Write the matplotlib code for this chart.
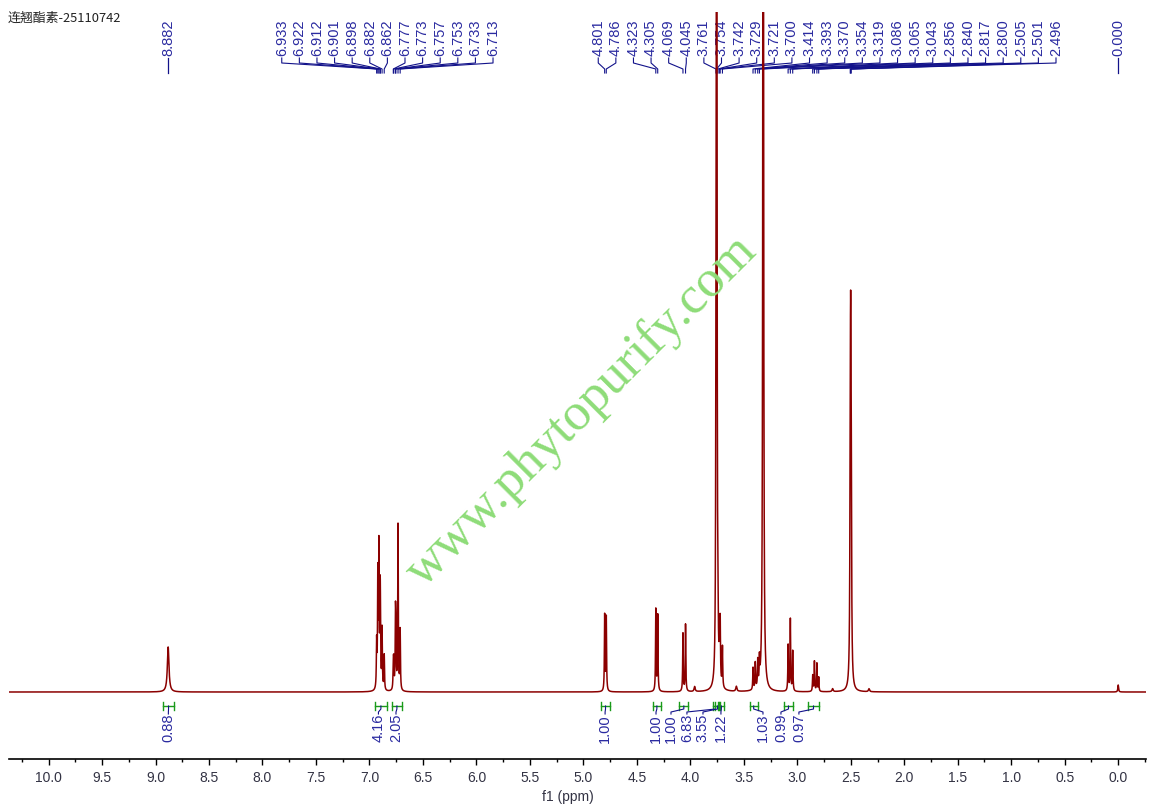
import numpy as np
import matplotlib.pyplot as plt
from matplotlib.ticker import MultipleLocator

plt.rcParams['font.family'] = ['Liberation Sans', 'DejaVu Sans']

sample_name = "连翘酯素-25110742"
watermark = "www.phytopurify.com"

# resonance lines: shift (ppm), height above baseline, half width (ppm)
line_ppm = [8.882,
            6.933, 6.922, 6.912, 6.901, 6.898, 6.882, 6.862,
            6.777, 6.773, 6.757, 6.753, 6.733, 6.713,
            4.801, 4.786, 4.323, 4.305, 4.069, 4.045, 3.960,
            3.761, 3.754, 3.742, 3.729, 3.721, 3.700, 3.570,
            3.414, 3.393, 3.370, 3.354, 3.319,
            3.086, 3.065, 3.043,
            2.856, 2.840, 2.817, 2.800, 2.670,
            2.505, 2.501, 2.496, 2.330, 0.000]
line_height = [45,
               45, 112, 138, 70, 60, 60, 35,
               24, 24, 65, 55, 165, 60,
               76, 74, 82, 76, 58, 67, 5,
               150, 1500, 40, 30, 60, 40, 5,
               22, 26, 26, 24, 1500,
               46, 72, 40,
               16, 30, 28, 14, 3,
               170, 250, 170, 3, 7]
line_hwhm = [0.009,
             0.003, 0.003, 0.003, 0.003, 0.003, 0.003, 0.003,
             0.003, 0.003, 0.003, 0.003, 0.003, 0.003,
             0.003, 0.003, 0.003, 0.003, 0.003, 0.003, 0.006,
             0.003, 0.003, 0.003, 0.003, 0.003, 0.003, 0.006,
             0.003, 0.003, 0.003, 0.003, 0.0035,
             0.003, 0.003, 0.003,
             0.003, 0.003, 0.003, 0.003, 0.006,
             0.004, 0.004, 0.004, 0.006, 0.004]

# peak picking labels (top)
peaks_left = [6.933, 6.922, 6.912, 6.901, 6.898, 6.882, 6.862,
              6.777, 6.773, 6.757, 6.753, 6.733, 6.713]
peaks_right = [4.801, 4.786, 4.323, 4.305, 4.069, 4.045,
               3.761, 3.754, 3.742, 3.729, 3.721, 3.700,
               3.414, 3.393, 3.370, 3.354, 3.319,
               3.086, 3.065, 3.043,
               2.856, 2.840, 2.817, 2.800,
               2.505, 2.501, 2.496]
peaks_single = [8.882, 0.000]

# integrals (bottom)
int_from = [8.93, 6.95, 6.79, 4.835, 4.352, 4.103, 3.79, 3.77, 3.73, 3.446, 3.125, 2.90]
int_to = [8.827, 6.836, 6.697, 4.751, 4.274, 4.019, 3.74, 3.72, 3.69, 3.370, 3.040, 2.797]
int_value = ["0.88", "4.16", "2.05", "1.00", "1.00", "1.00", "6.83", "3.55", "1.22", "1.03", "0.99", "0.97"]
int_label_at = [8.88, 6.916, 6.752, 4.797, 4.321, 4.181, 4.032, 3.882, 3.714, 3.321, 3.153, 2.985]

ppm = np.linspace(10.37, -0.26, 50000)
spec = np.zeros_like(ppm)
for p, h, w in zip(line_ppm, line_height, line_hwhm):
    spec += h / (1 + ((ppm - p) / w) ** 2)

fig = plt.figure(figsize=(11.53, 8.09), dpi=100)
ax = fig.add_axes([9 / 1153, 50 / 809, 1137 / 1153, 747 / 809])
ax.set_xlim(10.37, -0.26)
ax.set_ylim(-67, 680)

lab_col = '#2a2aa0'
con_col = '#12128a'

# peak labels with connectors
step = 0.1646
def draw_group(peaks, start):
    for i, p in enumerate(peaks):
        lx = start - i * step
        ax.text(lx, 636, f"{p:.3f}", rotation=90, ha='center', va='bottom',
                fontsize=10.5, color=lab_col)
        ax.plot([lx, lx, p, p], [634, 629, 623, 619], color=con_col, lw=0.8, zorder=2)

draw_group(peaks_left, 7.820)
draw_group(peaks_right, 4.861)
for p in peaks_single:
    ax.text(p, 636, f"{p:.3f}", rotation=90, ha='center', va='bottom',
            fontsize=10.5, color=lab_col)
    ax.plot([p, p], [634, 619], color=con_col, lw=0.9, zorder=2)

# integrals
for a, b, v, lx in zip(int_from, int_to, int_value, int_label_at):
    c = (a + b) / 2
    ax.plot([a, b], [-14, -14], color='#1a9a1a', lw=1.0)
    ax.plot([a, a], [-10, -18], color='#1a9a1a', lw=1.0)
    ax.plot([b, b], [-10, -18], color='#1a9a1a', lw=1.0)
    ax.plot([c, c, lx, lx], [-14, -17, -20, -22], color=con_col, lw=0.8)
    ax.text(lx, -22, v, rotation=90, ha='center', va='top', fontsize=10.5, color=lab_col)

ax.plot(ppm, spec, color='#8b0000', lw=1.1, zorder=5)

for s in ['left', 'right', 'top']:
    ax.spines[s].set_visible(False)
ax.spines['bottom'].set_linewidth(1.2)
ax.set_yticks([])
ax.xaxis.set_major_locator(MultipleLocator(0.5))
ax.xaxis.set_minor_locator(MultipleLocator(0.25))
ax.tick_params(axis='x', which='major', length=4.3, width=1.0, pad=4.5,
               labelsize=10, labelcolor='#333344')
ax.tick_params(axis='x', which='minor', length=2.2, width=1.0)
ax.xaxis.set_major_formatter(plt.FuncFormatter(lambda v, pos: f"{v:.1f}"))

fig.text(568 / 1153, 1 - 797 / 809, "f1 (ppm)", ha='center', va='center',
         fontsize=10, color='#333344')
fig.text(8 / 1153, 1 - 18 / 809, sample_name, ha='left', va='center',
         fontsize=9.3, color='#222222', family=['Noto Sans CJK SC', 'DejaVu Sans'])
fig.text(582 / 1153, 1 - 411 / 809, watermark, rotation=45, ha='center', va='center',
         fontsize=38, color='#8edc78', family=['Liberation Serif', 'DejaVu Serif'],
         rotation_mode='anchor', zorder=0)

fig.savefig('out.png', dpi=100)
